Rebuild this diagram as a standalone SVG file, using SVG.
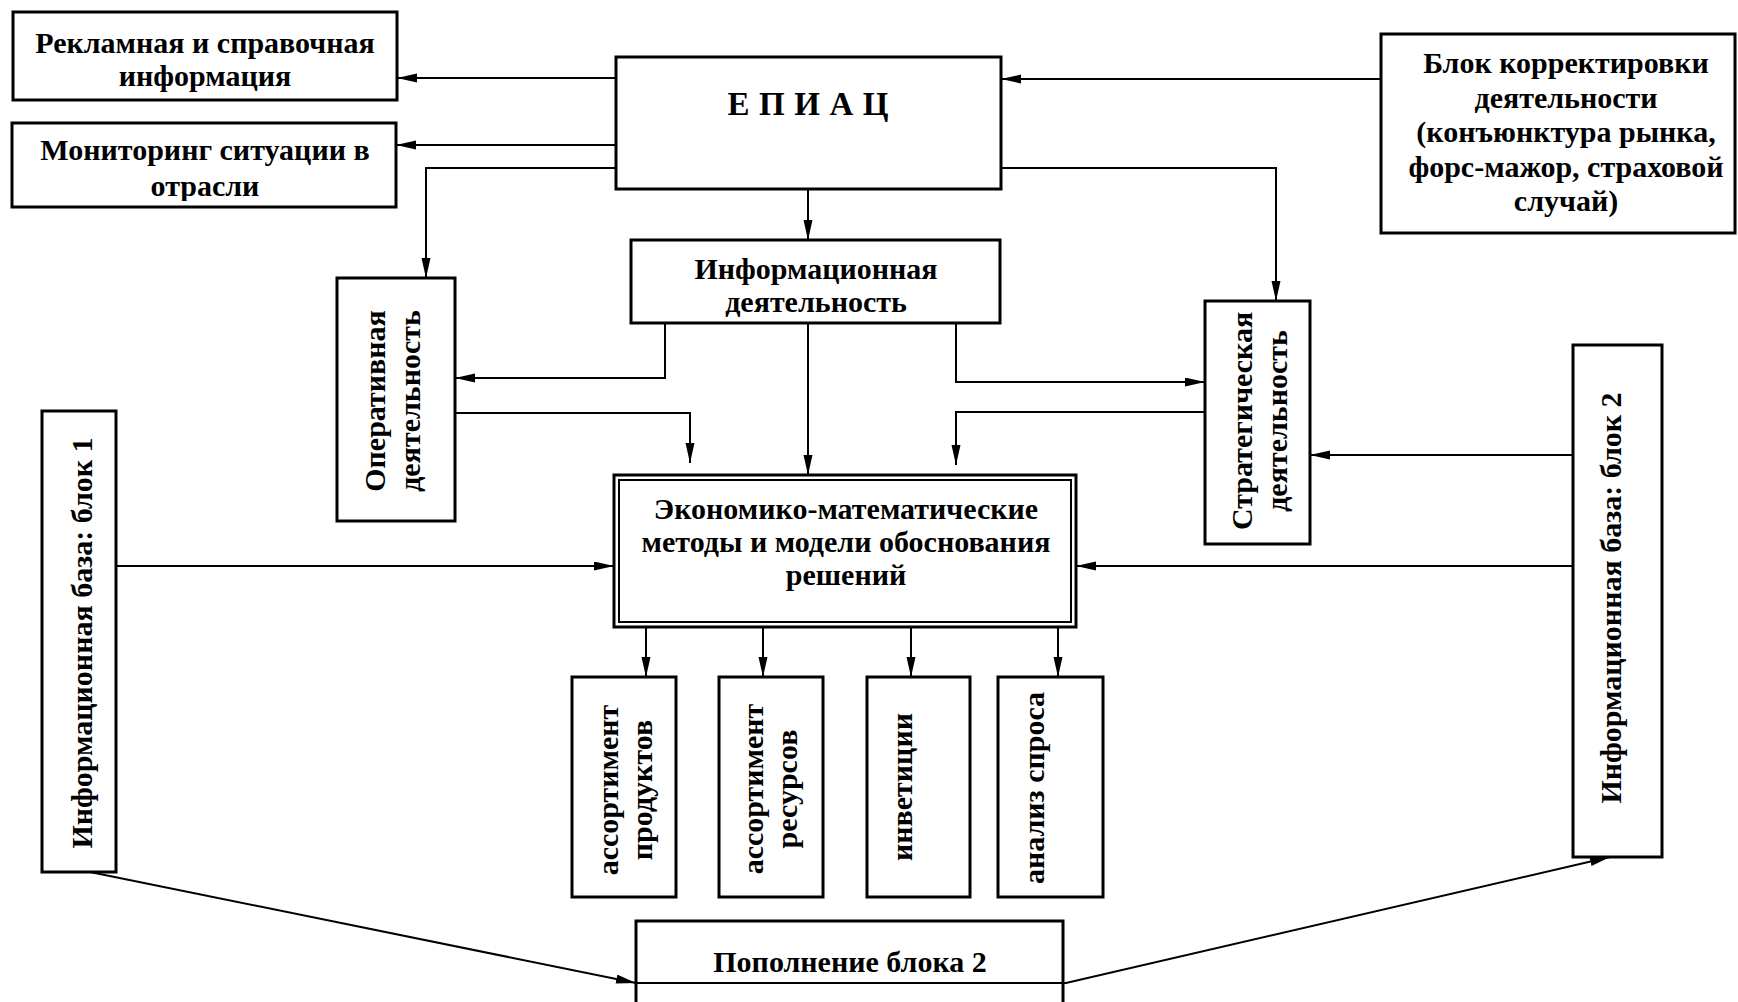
<svg xmlns="http://www.w3.org/2000/svg" width="1738" height="1002" viewBox="0 0 1738 1002">
<defs>
<style>
.box{fill:#fff;stroke:#000;stroke-width:3}
.in{fill:none;stroke:#000;stroke-width:2}
.c{fill:none;stroke:#000;stroke-width:2}
.a{marker-end:url(#ah)}
text{font-family:"Liberation Serif","Times New Roman",serif;font-weight:bold;font-size:30px;fill:#000;text-anchor:middle}
</style>
<marker id="ah" markerWidth="20" markerHeight="10" refX="20" refY="4.5" orient="auto" markerUnits="userSpaceOnUse"><path d="M0,0 L20,4.5 L0,9 z" fill="#000"/></marker>
<clipPath id="clipMon"><rect x="12" y="123" width="384" height="78"/></clipPath>
</defs>
<rect width="1738" height="1002" fill="#fff"/>

<g id="n-reklama">
<rect class="box" x="13" y="12" width="384" height="88"/>
<text x="205" y="53">Рекламная и справочная</text>
<text x="205" y="86">информация</text>
</g>
<g id="n-monitoring">
<rect class="box" x="12" y="123" width="384" height="84"/>
<g clip-path="url(#clipMon)">
<text x="205" y="160">Мониторинг ситуации в</text>
<text x="205" y="196">отрасли</text>
</g>
</g>
<g id="n-epiac">
<rect class="box" x="616" y="57" width="385" height="132"/>
<text x="808" y="115" style="font-size:33px" textLength="161" lengthAdjust="spacing">Е П И А Ц</text>
</g>
<g id="n-korr">
<rect class="box" x="1381" y="34" width="354" height="199"/>
<text x="1566" y="73">Блок корректировки</text>
<text x="1566" y="107.5">деятельности</text>
<text x="1566" y="142">(конъюнктура рынка,</text>
<text x="1566" y="176.5">форс-мажор, страховой</text>
<text x="1566" y="211">случай)</text>
</g>
<g id="n-infdeyat">
<rect class="box" x="631" y="240" width="369" height="83"/>
<text x="816" y="279">Информационная</text>
<text x="816" y="312">деятельность</text>
</g>
<g id="n-operativ">
<rect class="box" x="337" y="278" width="118" height="243"/>
<g transform="translate(385,401) rotate(-90)">
<text x="0" y="0">Оперативная</text>
<text x="0" y="35">деятельность</text>
</g>
</g>
<g id="n-strateg">
<rect class="box" x="1205" y="301" width="105" height="243"/>
<g transform="translate(1252,421) rotate(-90)">
<text x="0" y="0">Стратегическая</text>
<text x="0" y="35">деятельность</text>
</g>
</g>
<g id="n-econom">
<rect class="box" x="614" y="475" width="462" height="152"/>
<rect class="in" x="619" y="480" width="452" height="142"/>
<text x="846" y="519">Экономико-математические</text>
<text x="846" y="552">методы и модели обоснования</text>
<text x="846" y="585">решений</text>
</g>
<g id="n-baza1">
<rect class="box" x="42" y="411" width="74" height="461"/>
<g transform="translate(92,643) rotate(-90)"><text x="0" y="0">Информационная база: блок 1</text></g>
</g>
<g id="n-baza2">
<rect class="box" x="1573" y="345" width="89" height="512"/>
<g transform="translate(1621,598) rotate(-90)"><text x="0" y="0">Информационная база: блок 2</text></g>
</g>
<g id="n-assort-prod">
<rect class="box" x="572" y="677" width="104" height="220"/>
<g transform="translate(618,790) rotate(-90)">
<text x="0" y="0">ассортимент</text>
<text x="0" y="34">продуктов</text>
</g>
</g>
<g id="n-assort-res">
<rect class="box" x="719" y="677" width="104" height="220"/>
<g transform="translate(763,789) rotate(-90)">
<text x="0" y="0">ассортимент</text>
<text x="0" y="34">ресурсов</text>
</g>
</g>
<g id="n-invest">
<rect class="box" x="867" y="677" width="103" height="220"/>
<g transform="translate(912,787) rotate(-90)"><text x="0" y="0">инветиции</text></g>
</g>
<g id="n-spros">
<rect class="box" x="998" y="677" width="105" height="220"/>
<g transform="translate(1044,788) rotate(-90)"><text x="0" y="0">анализ спроса</text></g>
</g>
<g id="n-popolnenie">
<rect class="box" x="636" y="921" width="427" height="100"/>
<text x="850" y="972">Пополнение блока 2</text>
</g>

<g id="connectors">
<path class="c a" d="M616,78 H397"/>
<path class="c a" d="M616,145 H396"/>
<path class="c a" d="M616,168 H426 V278"/>
<path class="c a" d="M808,189 V240"/>
<path class="c a" d="M1001,168 H1276 V301"/>
<path class="c a" d="M1381,79 H1001"/>
<path class="c a" d="M665,323 V378 H455"/>
<path class="c a" d="M808,323 V475"/>
<path class="c a" d="M956,323 V382 H1205"/>
<path class="c a" d="M455,413 H690 V463"/>
<path class="c a" d="M1205,412 H956 V465"/>
<path class="c a" d="M116,566 H614"/>
<path class="c a" d="M1573,566 H1076"/>
<path class="c a" d="M1573,455 H1310"/>
<path class="c a" d="M646,627 V677"/>
<path class="c a" d="M763,627 V677"/>
<path class="c a" d="M911,627 V677"/>
<path class="c a" d="M1058,627 V677"/>
<path class="c a" d="M90,872 L636,983"/>
<path class="c a" d="M636,983 H1066 L1610,857"/>
</g>
</svg>
